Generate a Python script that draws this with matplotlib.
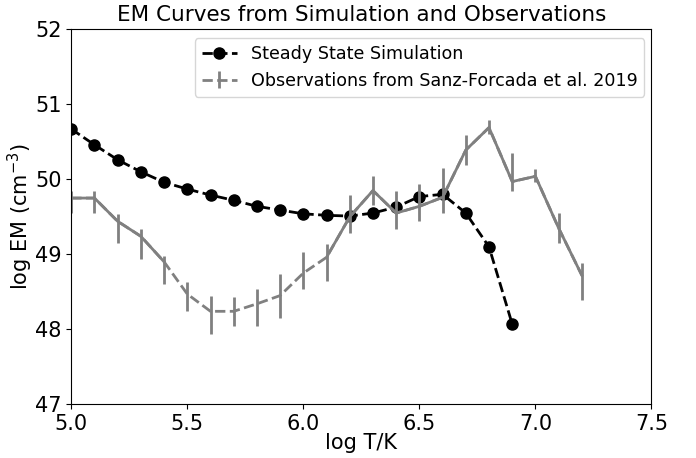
import numpy as np
import matplotlib
matplotlib.use("Agg")
import matplotlib.pyplot as plt

# steady state simulation
logT_sim = [5.0, 5.1, 5.2, 5.3, 5.4, 5.5, 5.6, 5.7, 5.8, 5.9,
            6.0, 6.1, 6.2, 6.3, 6.4, 6.5, 6.6, 6.7, 6.8, 6.9]
em_sim = [50.67, 50.46, 50.26, 50.10, 49.96, 49.87, 49.79, 49.72, 49.64, 49.59,
          49.54, 49.52, 49.51, 49.55, 49.63, 49.77, 49.80, 49.55, 49.10, 48.07]

# observations (Sanz-Forcada et al. 2019)
logT_obs = [5.0, 5.1, 5.2, 5.3, 5.4, 5.5, 5.6, 5.7, 5.8, 5.9, 6.0,
            6.1, 6.2, 6.3, 6.4, 6.5, 6.6, 6.7, 6.8, 6.9, 7.0, 7.1, 7.2]
em_obs = [49.75, 49.75, 49.44, 49.24, 48.90, 48.47, 48.24, 48.24, 48.34, 48.45, 48.75,
          48.96, 49.50, 49.85, 49.55, 49.64, 49.76, 50.39, 50.69, 49.97, 50.04, 49.35, 48.72]
err_lo = [0.20, 0.20, 0.29, 0.30, 0.30, 0.23, 0.30, 0.20, 0.29, 0.30, 0.21,
          0.31, 0.21, 0.19, 0.21, 0.19, 0.21, 0.20, 0.08, 0.12, 0.08, 0.20, 0.33]
err_hi = [0.10, 0.10, 0.10, 0.10, 0.08, 0.16, 0.20, 0.19, 0.20, 0.29, 0.28,
          0.18, 0.29, 0.19, 0.29, 0.30, 0.39, 0.20, 0.10, 0.38, 0.10, 0.20, 0.16]

# indices where the observed curve is drawn solid
solid_parts = [(0, 5), (11, 23)]

fig = plt.figure(figsize=(6.96, 4.58), dpi=100)
ax = fig.add_axes([0.1024, 0.1172, 0.8336, 0.8188])

ax.plot(logT_sim, em_sim, 'k--', marker='o', markersize=8, linewidth=2,
        label='Steady State Simulation')
ax.errorbar(logT_obs, em_obs, yerr=[err_lo, err_hi], color='grey', linestyle='--',
            linewidth=2, elinewidth=2, capsize=0,
            label='Observations from Sanz-Forcada et al. 2019')
for i0, i1 in solid_parts:
    ax.plot(logT_obs[i0:i1], em_obs[i0:i1], color='grey', linestyle='-', linewidth=2)

ax.set_xlim(5.0, 7.5)
ax.set_ylim(47, 52)
ax.set_xticks([5.0, 5.5, 6.0, 6.5, 7.0, 7.5])
ax.tick_params(labelsize=15)
ax.set_xlabel('log T/K', fontsize=15, labelpad=-1)
ax.set_ylabel(r'log EM (cm$^{-3}$)', fontsize=15, labelpad=0)
ax.set_title('EM Curves from Simulation and Observations', fontsize=15.5)
ax.legend(loc='upper center', bbox_to_anchor=(0.6, 1.0), fontsize=12.6)

fig.savefig('out.png', dpi=100)
